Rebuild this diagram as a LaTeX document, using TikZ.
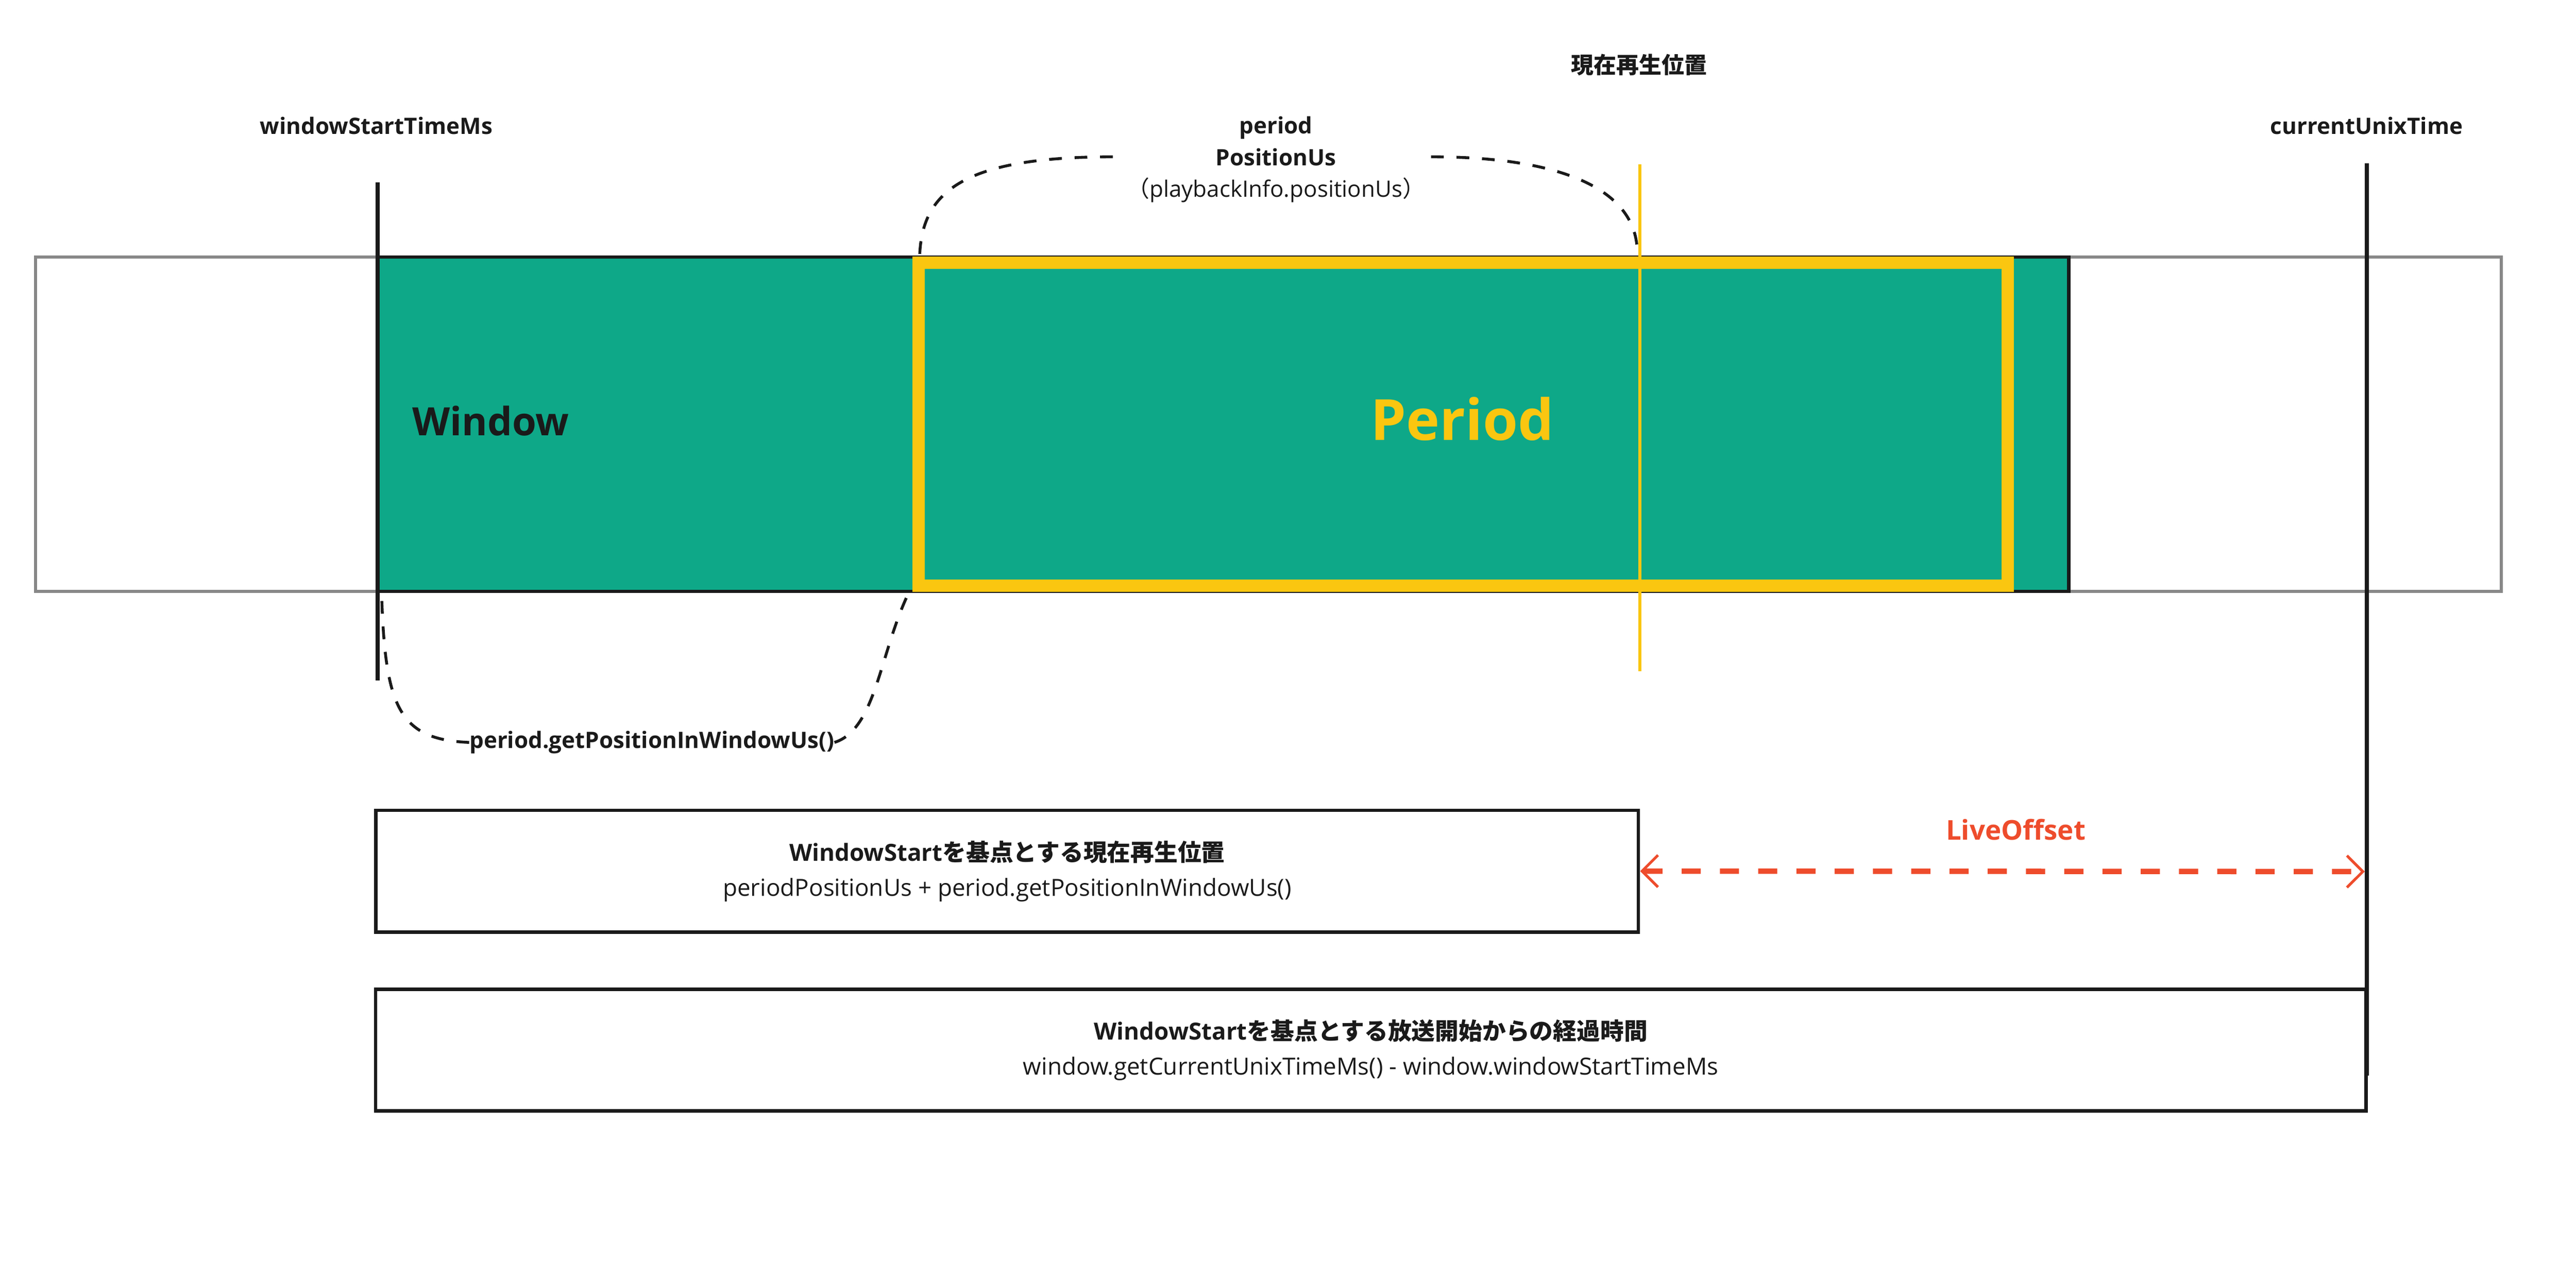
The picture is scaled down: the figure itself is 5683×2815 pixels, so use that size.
\documentclass[tikz,border=0pt]{standalone}
\usepackage{fontspec}
\setmainfont{Open Sans}
\newfontfamily\cjk{Noto Sans CJK JP}
\usetikzlibrary{arrows.meta}
\definecolor{winGreen}{HTML}{0EA888}
\definecolor{perYellow}{HTML}{FAC610}
\definecolor{liveRed}{HTML}{EE4C2C}
\definecolor{barGrey}{HTML}{888888}
\definecolor{inkBlack}{HTML}{1A1A1A}
\begin{document}
\begin{tikzpicture}[x=0.01cm,y=-0.01cm,
        toplbl/.style={font=\fontsize{14.2pt}{19.9pt}\selectfont\bfseries,text=inkBlack,inner sep=0pt},
        dashcurve/.style={draw=inkBlack,line width=1.8pt,dash pattern=on 8pt off 8pt},
        infobox/.style={draw=inkBlack,line width=2pt,align=center,inner sep=0pt,text=inkBlack,
            font=\fontsize{14.8pt}{21.9pt}\selectfont}]
        \useasboundingbox (0,0) rectangle (5683,2815);
        % timeline bar
        \draw[barGrey,line width=2pt] (78,567) rectangle (5518,1305);
        \draw[inkBlack,line width=2pt,fill=winGreen] (833,567) rectangle (4564,1305);
        \draw[perYellow,line width=7.7pt] (2027,580) rectangle (4429,1292);
        \draw[inkBlack,line width=2.6pt] (833,402) -- (833,1502);
        \draw[perYellow,line width=2pt] (3618,363) -- (3618,1481);
        \draw[inkBlack,line width=2.6pt] (5221,360) -- (5221,2373);
        \node[font=\fontsize{24.5pt}{29pt}\selectfont\bfseries,text=inkBlack,anchor=west,inner sep=0pt]
            (winlbl) at (909,929) {Window};
        \node[font=\fontsize{35.6pt}{42pt}\selectfont\bfseries,text=perYellow,inner sep=0pt]
            (perlbl) at (3226,924) {Period};
        % labels above
        \node[toplbl] (startlbl) at (830,277) {windowStartTimeMs};
        \node[toplbl] (nowlbl) at (3616,143) {\cjk 現在再生位置};
        \node[toplbl] (unixlbl) at (5221,277) {currentUnixTime};
        \node[toplbl,align=center] (poslbl) at (2815,352)
            {period\\PositionUs\\{\mdseries\cjk （}{\mdseries playbackInfo.positionUs}{\mdseries\cjk ）}};
        \coordinate (perTop) at (2029,562);
        \coordinate (gapL) at (2455,346);
        \coordinate (gapR) at (3157,346);
        \coordinate (nowTop) at (3612,558);
        \draw[dashcurve] (gapL) .. controls (2130,346) and (2035,420) .. (perTop);
        \draw[dashcurve] (gapR) .. controls (3450,346) and (3612,420) .. (nowTop);
        % offset of the period in the window
        \node[toplbl,anchor=base] (inwinlbl) at (1438,1651) {period.getPositionInWindowUs()};
        \coordinate (winBot) at (842,1315);
        \coordinate (perBot) at (2000,1318);
        \draw[dashcurve] (inwinlbl.west) .. controls (880,1632) and (850,1560) .. (winBot);
        \draw[dashcurve] (inwinlbl.east) .. controls (1930,1610) and (1940,1450) .. (perBot);
        % boxes below
        \node[infobox,minimum width=27.84cm,minimum height=2.69cm] (box1) at (2222,1922)
            {{\bfseries WindowStart{\cjk を基点とする現在再生位置}}\\periodPositionUs + period.getPositionInWindowUs()};
        \node[infobox,minimum width=43.89cm,minimum height=2.68cm] (box2) at (3024,2317)
            {{\bfseries WindowStart{\cjk を基点とする放送開始からの経過時間}}\\window.getCurrentUnixTimeMs() - window.windowStartTimeMs};
        \node[font=\fontsize{17.1pt}{20pt}\selectfont\bfseries,text=liveRed,inner sep=0pt]
            (livelbl) at (4447,1831) {LiveOffset};
        \coordinate (unixArrow) at (5217,1923);
        \draw[liveRed,line width=3.4pt,dash pattern=on 12pt off 12pt,
            {Straight Barb[length=10pt,width=20pt,line width=1.7pt]}-{Straight Barb[length=10pt,width=20pt,line width=1.7pt]}]
            (box1.east) -- (unixArrow);
\end{tikzpicture}
\end{document}
